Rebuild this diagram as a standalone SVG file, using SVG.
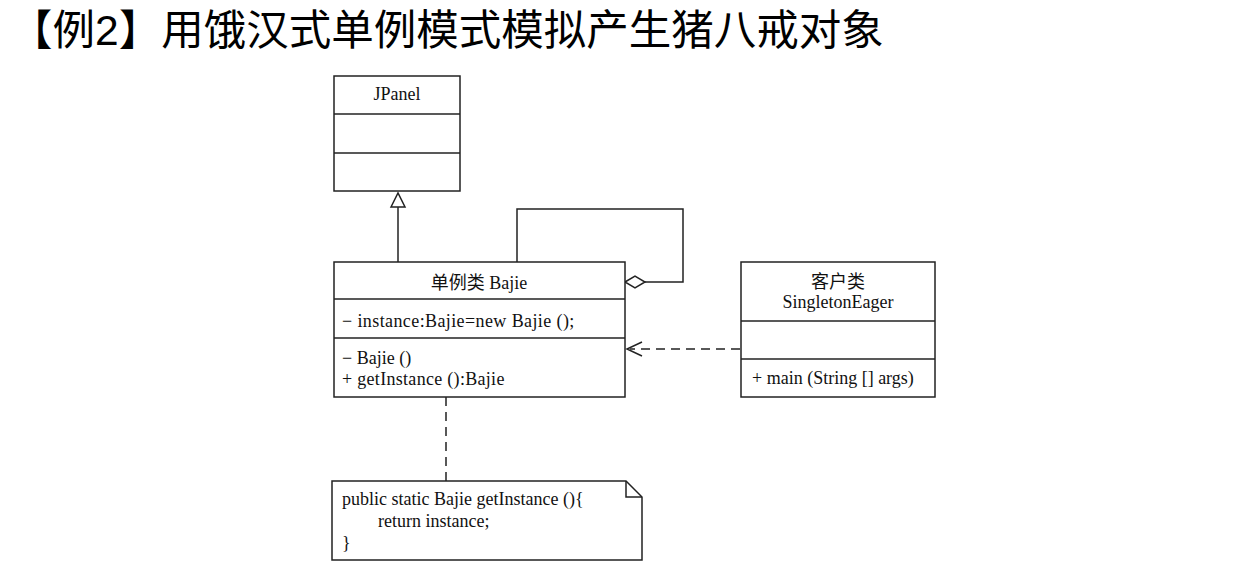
<svg xmlns="http://www.w3.org/2000/svg" width="1251" height="570" viewBox="0 0 1251 570">
<style>
.box{fill:#fff;stroke:#222;stroke-width:1.5}
.ln{fill:none;stroke:#222;stroke-width:1.5}
.dash{fill:none;stroke:#222;stroke-width:1.5;stroke-dasharray:9,6}
.t{font-family:"Liberation Serif","Noto Sans CJK SC",serif;font-size:18px;fill:#111}
.c{text-anchor:middle}
.title{font-family:"Liberation Sans","Noto Sans CJK SC",sans-serif;font-size:42.5px;fill:#000}
</style>
<text class="title" x="10" y="45">【例2】用饿汉式单例模式模拟产生猪八戒对象</text>
<g id="connectors">
<line class="ln" x1="398" y1="262" x2="398" y2="207"/>
<path class="ln" d="M391,207 L398,193 L405,207 Z" fill="#fff"/>
<path class="ln" d="M517,262 L517,209 L683,209 L683,282 L645,282"/>
<path d="M625,282 L635,276 L645,282 L635,288 Z" fill="#fff" stroke="#222" stroke-width="1.5"/>
<line class="dash" x1="740" y1="349" x2="630" y2="349"/>
<path class="ln" d="M642,342 L627,349 L642,356"/>
<line class="dash" x1="446" y1="397" x2="446" y2="481"/>
</g>
<g id="JPanel">
<rect class="box" x="334" y="76" width="126" height="115"/>
<line class="ln" x1="334" y1="114" x2="460" y2="114"/>
<line class="ln" x1="334" y1="153" x2="460" y2="153"/>
<text class="t c" x="397" y="100">JPanel</text>
</g>
<g id="Bajie">
<rect class="box" x="334" y="262" width="291" height="135"/>
<line class="ln" x1="334" y1="299" x2="625" y2="299"/>
<line class="ln" x1="334" y1="338" x2="625" y2="338"/>
<text class="t c" x="479" y="289">单例类  Bajie</text>
<text class="t" x="342" y="327" letter-spacing="0.4">− instance:Bajie=new Bajie ();</text>
<text class="t" x="342" y="364">− Bajie ()</text>
<text class="t" x="342" y="385" letter-spacing="0.3">+ getInstance ():Bajie</text>
</g>
<g id="SingletonEager">
<rect class="box" x="741" y="262" width="194" height="135"/>
<line class="ln" x1="741" y1="321" x2="935" y2="321"/>
<line class="ln" x1="741" y1="359" x2="935" y2="359"/>
<text class="t c" x="838" y="288">客户类</text>
<text class="t c" x="838" y="308">SingletonEager</text>
<text class="t" x="752" y="384">+ main (String [] args)</text>
</g>
<g id="note">
<path class="box" d="M332,481 L626,481 L642,497 L642,560 L332,560 Z"/>
<path class="ln" d="M626,481 L626,497 L642,497"/>
<text class="t" x="342" y="505">public static Bajie getInstance (){</text>
<text class="t" x="378" y="527">return instance;</text>
<text class="t" x="342" y="549">}</text>
</g>
</svg>
